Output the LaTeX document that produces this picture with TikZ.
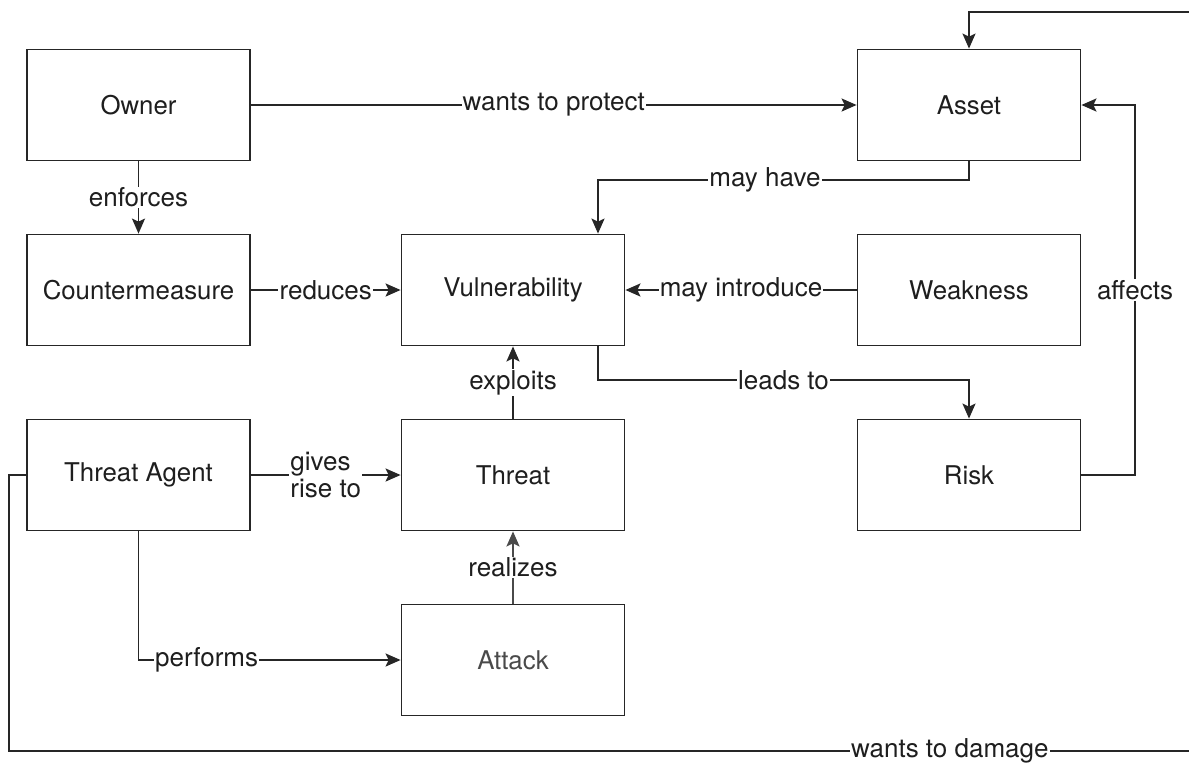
\documentclass[tikz,border=0pt]{standalone}
\usepackage{fontspec}
\setmainfont{TeX Gyre Heros}
\usetikzlibrary{arrows.meta}
\definecolor{linec}{HTML}{262626}
\definecolor{textc}{HTML}{1E1E1E}
\definecolor{softc}{HTML}{4A4A4A}
\begin{document}
\begin{tikzpicture}[x=1pt,y=-1pt,
  box/.style={draw=linec, line width=1.8pt, minimum width=223pt, minimum height=111pt,
    inner sep=0pt, font=\fontsize{25.8}{30}\selectfont, text=textc},
  conn/.style={draw=linec, line width=1.8pt},
  arr/.style={conn, -{Stealth[length=15pt,width=13pt,inset=3pt]}},
  lbl/.style={fill=white, inner sep=1.2pt, font=\fontsize{26}{26}\selectfont, text=textc}]
\useasboundingbox (0,0) rectangle (1189,769);
\clip (0,0) rectangle (1189,769);

% boxes
\node[box] (owner)  at (138.5,105) {Owner};
\node[box] (asset)  at (969,105)   {Asset};
\node[box] (cm)     at (138.5,290) {Countermeasure};
\node[box] (vul)    at (513,290)   {Vulnerability};
\node[box] (weak)   at (969,290)   {Weakness};
\node[box] (agent)  at (138.5,475) {Threat Agent};
\node[box] (threat) at (513,475)   {Threat};
\node[box] (risk)   at (969,475)   {Risk};
\node[box, text=softc] (attack) at (513,660) {Attack};

% relations
\draw[arr] (owner.east) -- node[lbl] {wants to protect} (asset.west);
\draw[arr] (owner.south) -- node[lbl] {enforces} (cm.north);
\draw[arr] (asset.south) -- (asset.south |- 0,180)
  -- node[lbl, pos=0.55] {may have} ([xshift=85pt]vul.north |- 0,180)
  -- ([xshift=85pt]vul.north);
\draw[arr] (cm.east) -- node[lbl] {reduces} (vul.west);
\draw[arr] (weak.west) -- node[lbl] {may introduce} (vul.east);
\draw[arr] ([xshift=85pt]vul.south) -- ([xshift=85pt]vul.south |- 0,380)
  -- node[lbl] {leads to} (risk.north |- 0,380) -- (risk.north);
\draw[arr] (risk.east) -- (1135,475)
  -- node[lbl] {affects} (1135,105) -- (asset.east);
\draw[arr] (threat.north) -- node[lbl] {exploits} (vul.south);
\draw[arr, draw=softc] (attack.north) -- node[lbl] {realizes} (threat.south);
\draw[arr] (agent.east) -- node[lbl, align=left, font=\fontsize{26}{27}\selectfont] {gives\\rise to} (threat.west);
\draw[arr] (agent.south) -- (agent.south |- attack.west)
  -- node[lbl, pos=0.26] {performs} (attack.west);
\draw[arr] (agent.west) -- (9,475) -- (9,751)
  -- node[lbl, pos=0.79] {wants to damage} (1200,751)
  -- (1200,12) -- (asset.north |- 0,12) -- (asset.north);
\end{tikzpicture}
\end{document}
